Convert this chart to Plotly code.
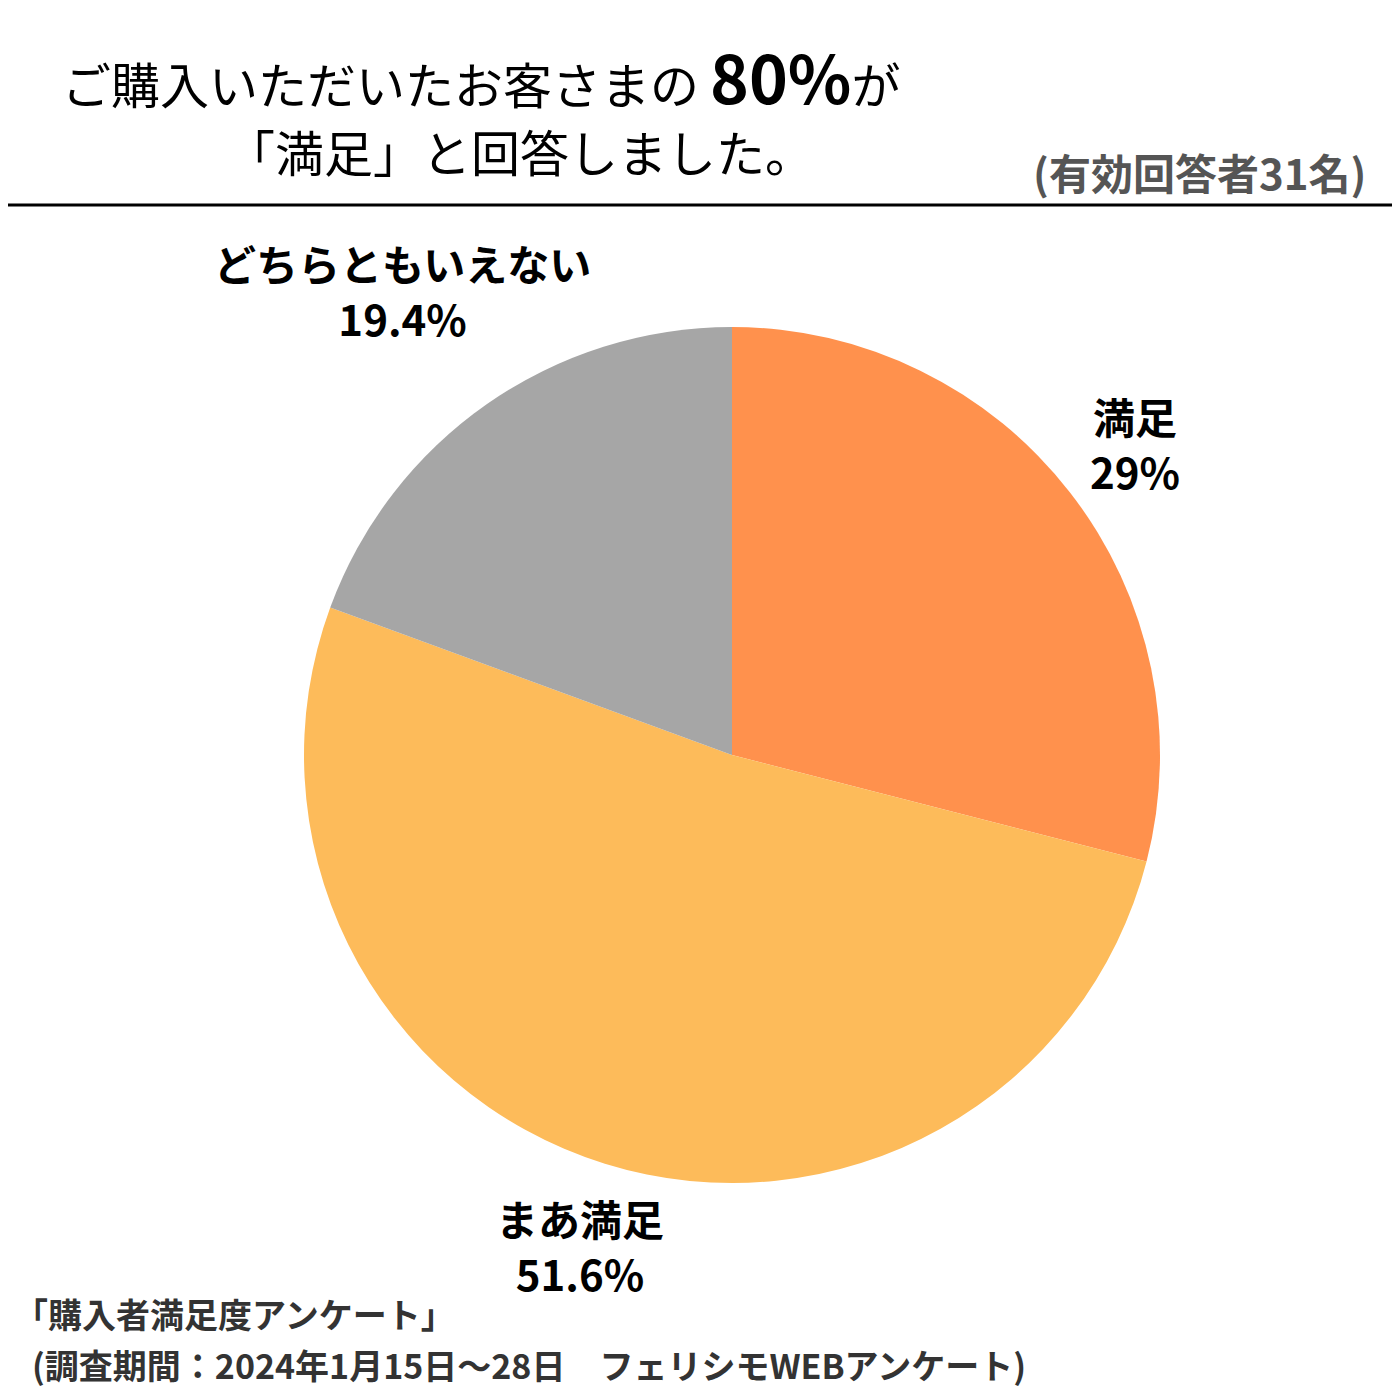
import plotly.graph_objects as go

labels = ["満足", "まあ満足", "どちらともいえない"]
values = [29.0, 51.6, 19.4]
colors = ["#FF914D", "#FDBB5A", "#A6A6A6"]
label_text = ["満足<br>29%", "まあ満足<br>51.6%", "どちらともいえない<br>19.4%"]

FONT = "Noto Sans CJK JP"
W = H = 1400
OFF = 8  # page body margin


def px(x, y):
    return (x - OFF) / W, 1 - (y - OFF) / H


x0, y0 = px(304, 1183)
x1, y1 = px(1160, 327)
fig = go.Figure(go.Pie(
    labels=labels, values=values, sort=False, direction="clockwise", rotation=0,
    marker=dict(colors=colors, line=dict(width=0)),
    textinfo="none", hoverinfo="label+percent", showlegend=False,
    domain=dict(x=[x0, x1], y=[y0, y1]),
))

ann = []
for (x, y), t in zip([(1135, 443), (580, 1245), (402, 290)], label_text):
    ax, ay = px(x, y)
    ann.append(dict(x=ax, y=ay, xref="paper", yref="paper", text=t, showarrow=False,
                    font=dict(family=FONT, size=42, color="black", weight="bold"),
                    align="center", xanchor="center", yanchor="middle"))

def add(x, y, text, size, color, xanchor, bold=False):
    ax, ay = px(x, y)
    ann.append(dict(x=ax, y=ay, xref="paper", yref="paper", text=text, showarrow=False,
                    xanchor=xanchor, yanchor="middle",
                    font=dict(family=FONT, size=size, color=color,
                              weight="bold" if bold else "normal")))

add(60, 75, "ご購入いただいたお客さまの <b style='font-size:66px'>80%</b>が", 49, "black", "left")
add(520, 150, "「満足」と回答しました。", 49, "black", "center")
add(1368, 172, "(有効回答者31名)", 42, "#555555", "right", True)
add(12, 1313, "「購入者満足度アンケート」", 34, "#333333", "left", True)
add(30, 1364, "(調査期間：2024年1月15日～28日　フェリシモWEBアンケート)", 34, "#333333", "left", True)

ly = 1 - (205 - OFF) / H
fig.update_layout(
    width=W, height=H, margin=dict(l=0, r=0, t=0, b=0),
    paper_bgcolor="white", plot_bgcolor="white",
    annotations=ann,
    shapes=[dict(type="line", xref="paper", yref="paper", x0=-0.01, x1=1,
                 y0=ly, y1=ly, line=dict(color="black", width=3))],
)

fig.write_html("out.html")
